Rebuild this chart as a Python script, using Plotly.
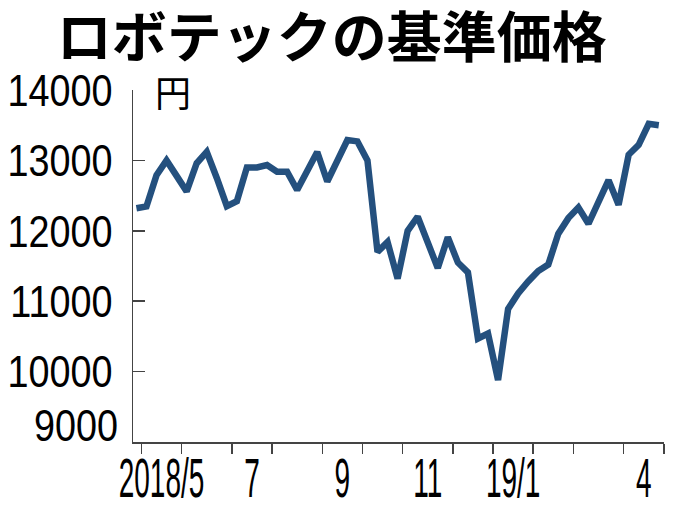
import pandas as pd
import plotly.graph_objects as go

# Weekly base price (yen), 2018-04-27 .. 2019-04-26
weeks = pd.date_range("2018-04-27", periods=53, freq="7D")
prices = [
    12320, 12345, 12790, 13000, 12780, 12560, 12960, 13120, 12750, 12350,
    12420, 12900, 12900, 12935, 12840, 12840, 12580, 12850, 13120, 12700,
    12980, 13290, 13270, 13000, 11700, 11840, 11320, 12000, 12200, 11830,
    11470, 11910, 11550, 11410, 10470, 10540, 9880, 10890, 11110, 11280,
    11430, 11520, 11960, 12180, 12330, 12100, 12430, 12720, 12370, 13080,
    13220, 13520, 13500,
]
month_labels = {"2018-05": "2018/5", "2018-07": "7", "2018-09": "9",
                "2018-11": "11", "2019-01": "19/1", "2019-04": "4"}
y_ticks = [10000, 11000, 12000, 13000, 14000]
y_bottom_label = 9000
title = "ロボテックの基準価格"
unit = "円"

idx = list(range(len(weeks)))
months = [d.strftime("%Y-%m") for d in weeks]

# month boundaries
bounds = [i - 0.5 for i in idx[1:] if months[i] != months[i - 1]] + [len(idx) - 0.5]
# label centres
lab_pos, lab_txt = [], []
for key, txt in month_labels.items():
    members = [i for i in idx if months[i] == key]
    lab_pos.append(sum(members) / len(members))
    lab_txt.append(txt)

NUM_FONT = "Liberation Sans, Arial, sans-serif"
JP_FONT = "Noto Sans CJK JP"

fig = go.Figure()
fig.add_trace(go.Scatter(x=idx, y=prices, mode="lines",
                         line=dict(color="#24507e", width=6.5),
                         hoverinfo="skip", showlegend=False))
# invisible trace to activate xaxis2
fig.add_trace(go.Scatter(x=[idx[0]], y=[prices[0]], xaxis="x2", mode="markers",
                         marker=dict(opacity=0), hoverinfo="skip", showlegend=False))

xr = [-0.34, len(idx) - 0.48]
fig.update_layout(
    width=680, height=510,
    margin=dict(l=133, r=16, t=90, b=68, autoexpand=False),
    paper_bgcolor="white", plot_bgcolor="white",
    title=dict(text=title, x=0.488, xref="container", xanchor="center",
               y=1 - 38 / 510, yref="container", yanchor="middle",
               automargin=False,
               font=dict(family=JP_FONT, size=55, color="black", weight=700)),
    xaxis=dict(range=xr, tickvals=bounds, ticktext=[""] * len(bounds),
               ticks="outside", ticklen=10, tickwidth=1.5, tickcolor="#444",
               showline=True, linecolor="#444", linewidth=1.5, automargin=False,
               showgrid=False, zeroline=False, fixedrange=True),
    xaxis2=dict(range=xr, overlaying="x", anchor="y", side="bottom",
                tickvals=lab_pos, ticktext=lab_txt, ticks="", tickangle=0,
                showline=False, showgrid=False, zeroline=False, automargin=False,
                ticklabelstandoff=-2,
                tickfont=dict(family=NUM_FONT, size=56, color="black")),
    yaxis=dict(range=[9000, 14000], tickvals=y_ticks,
               ticktext=[str(v) for v in y_ticks],
               ticks="inside", ticklen=12, tickwidth=1.5, tickcolor="#444",
               showline=True, linecolor="#444", linewidth=1.5, automargin=False,
               showgrid=False, zeroline=False, ticklabelstandoff=10,
               tickfont=dict(family=NUM_FONT, size=45, color="black")),
)
fig.add_annotation(text=str(y_bottom_label), xref="paper", x=0, xanchor="right",
                   xshift=-13, yref="y", y=y_bottom_label, yanchor="middle",
                   yshift=17, showarrow=False,
                   font=dict(family=NUM_FONT, size=45, color="black"))
fig.add_annotation(text=unit, xref="paper", x=0, xanchor="left", xshift=20,
                   yref="y", y=14000, yanchor="middle", yshift=-1,
                   showarrow=False,
                   font=dict(family=JP_FONT, size=36, color="black"))

# Narrow the numeric labels horizontally (the reference uses a condensed face)
post = """
document.body.style.margin = '0';
var gd = document.getElementById('{plot_id}');
function squeezeEl(t, s, anchor){
  if (t.getAttribute('data-sq')) return;
  var b = t.getBBox();
  var ax = anchor === 'right' ? b.x + b.width : b.x + b.width / 2;
  var tr = t.getAttribute('transform') || '';
  t.setAttribute('transform', tr + ' translate(' + ax + ',0) scale(' + s + ',1) translate(' + (-ax) + ',0)');
  t.setAttribute('data-sq', '1');
}
function squeeze(){
  gd.querySelectorAll('.x2tick text').forEach(function(t){ squeezeEl(t, 0.5, 'mid'); });
  gd.querySelectorAll('.ytick text').forEach(function(t){ squeezeEl(t, 0.84, 'right'); });
  gd.querySelectorAll('.annotation-text').forEach(function(t){
    if (t.textContent === '9000') squeezeEl(t, 0.84, 'right');
  });
}
squeeze();
gd.on('plotly_afterplot', squeeze);
"""

fig.write_html("out.html", post_script=post,
               config={"displayModeBar": False, "staticPlot": True})
